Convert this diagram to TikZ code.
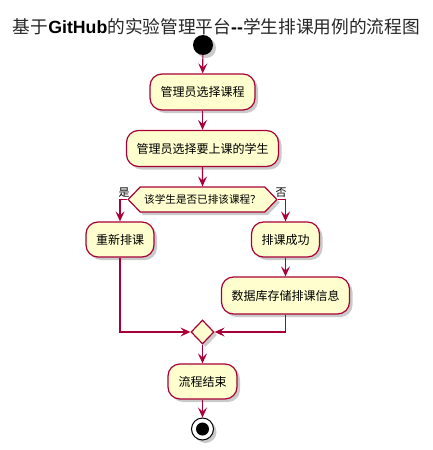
\documentclass[tikz,border=0pt]{standalone}
\usepackage{fontspec}
\setmainfont{Noto Sans CJK SC}
\newfontfamily\arialfont{Liberation Sans}
\usetikzlibrary{arrows.meta,shapes.geometric,shapes.misc,shapes.symbols,shadows}
\definecolor{pbord}{HTML}{A80036}
\definecolor{pfill}{HTML}{FEFECE}
\tikzset{
  pshadow/.style={drop shadow={shadow xshift=3pt,shadow yshift=-3pt,opacity=0.35,fill=black!60}},
  actbox/.style={rectangle,rounded corners=12pt,draw=pbord,fill=pfill,line width=1.2pt,
    minimum height=36pt,inner xsep=10pt,font=\fontsize{12}{14}\selectfont,pshadow},
  decbox/.style={signal,signal to=west and east,signal pointer angle=92,draw=pbord,fill=pfill,
    line width=1.2pt,minimum height=25pt,inner xsep=4pt,font=\fontsize{10.6}{12}\selectfont,pshadow},
  mergebox/.style={diamond,draw=pbord,fill=pfill,line width=1.2pt,minimum width=23pt,minimum height=24pt,inner sep=0pt,pshadow},
  flow/.style={draw=pbord,line width=1.2pt,-{Stealth[length=10pt,width=9pt,inset=4pt]}},
  lbl/.style={font=\fontsize{11}{12}\selectfont,inner sep=0pt}
}
\begin{document}
\begin{tikzpicture}[x=1pt,y=-1pt]
\useasboundingbox (0,0) rectangle (433,450);
\node[font=\fontsize{17.7}{20}\selectfont,inner sep=0pt,text=black!85] (title) at (216.5,27)
  {基于{\arialfont\bfseries\color{black} GitHub}的实验管理平台{\arialfont\bfseries\color{black} --}学生排课用例的流程图};
\node[circle,fill=black,minimum size=20pt,inner sep=0pt,pshadow] (s) at (203,45) {};
\node[actbox,minimum width=105pt] (b1) at (202.5,92) {管理员选择课程};
\node[actbox,minimum width=150pt] (b2) at (202.5,148.5) {管理员选择要上课的学生};
\node[decbox,minimum width=145pt] (q) at (202.5,199.5) {该学生是否已排该课程？};
\node[actbox,minimum width=68pt,minimum height=35pt] (b3) at (120,239.5) {重新排课};
\node[actbox,minimum width=68pt,minimum height=35pt] (b4) at (285.5,239.5) {排课成功};
\node[actbox,minimum width=127pt,minimum height=37pt] (b5) at (285.5,295.5) {数据库存储排课信息};
\node[mergebox] (m) at (202.5,332) {};
\node[actbox,minimum width=69pt,minimum height=35pt] (b6) at (202.5,381.5) {流程结束};
\node[circle,draw=black,fill=white,line width=1pt,minimum size=22pt,inner sep=0pt,pshadow] (e) at (202.5,429) {};
\node[circle,fill=black,minimum size=13pt,inner sep=0pt] (ei) at (e.center) {};
\node[lbl] (yes) at (124,193) {是};
\node[lbl] (no) at (281,193) {否};
\draw[flow] (s) -- (b1);
\draw[flow] (b1) -- (b2);
\draw[flow] (b2) -- (q);
\draw[flow] (q.west) -| (b3.north);
\draw[flow] (q.east) -| (b4.north);
\draw[flow] (b4) -- (b5);
\draw[flow] (b3.south) |- (m.west);
\draw[flow] (b5.south) |- (m.east);
\draw[flow] (m) -- (b6);
\draw[flow] (b6) -- (e);
\end{tikzpicture}
\end{document}
